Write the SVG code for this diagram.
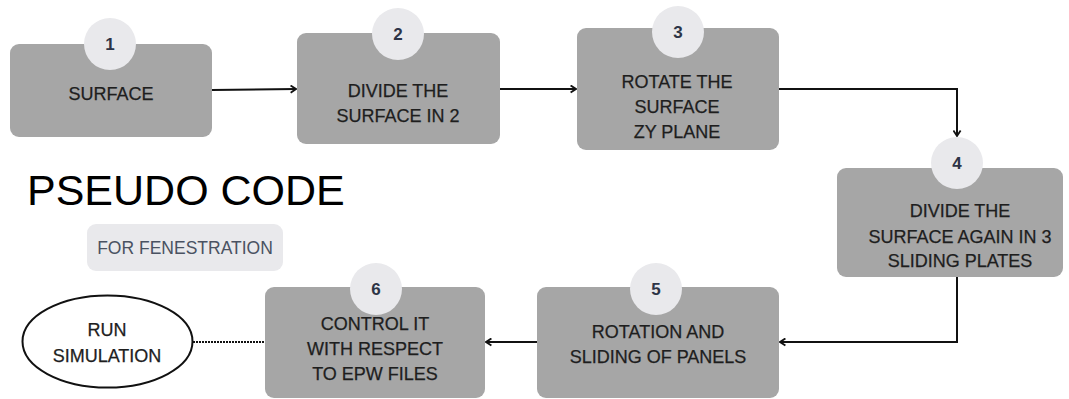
<svg xmlns="http://www.w3.org/2000/svg" width="1069" height="399" viewBox="0 0 1069 399">
<style>
.box{fill:#a6a6a6}
.badge{fill:#e9e9ec}
.num{font-family:"Liberation Sans",Arial,sans-serif;font-weight:bold;font-size:17px;fill:#2d3446;text-anchor:middle}
.lbl{font-family:"Liberation Sans",Arial,sans-serif;font-size:18px;fill:#1e1e1e;text-anchor:middle;stroke:#1e1e1e;stroke-width:0.25}
.conn{fill:none;stroke:#111;stroke-width:2}
</style>
<defs>
<marker id="arr" viewBox="0 0 10 10" refX="9" refY="5" markerWidth="9" markerHeight="9" markerUnits="userSpaceOnUse" orient="auto">
<path d="M3,1 L9,5 L3,9" fill="none" stroke="#111" stroke-width="2"/>
</marker>
</defs>
<rect width="1069" height="399" fill="#ffffff"/>

<g id="connectors">
<path class="conn" d="M212,90 L296,89" marker-end="url(#arr)"/>
<path class="conn" d="M500,89 L576,89" marker-end="url(#arr)"/>
<path class="conn" d="M779,89 H957 V136" marker-end="url(#arr)"/>
<path class="conn" d="M957,277 V342 H780" marker-end="url(#arr)"/>
<path class="conn" d="M537,342 H486" marker-end="url(#arr)"/>
<path d="M193,342 H265" fill="none" stroke="#111" stroke-width="2" stroke-dasharray="2,1"/>
</g>

<g id="title">
<text x="27" y="205" font-family="'Liberation Sans',Arial,sans-serif" font-size="43" fill="#000">PSEUDO CODE</text>
</g>

<g id="subtitle">
<rect x="87" y="224" width="196" height="47" rx="9" fill="#e9e9ec"/>
<text x="185" y="254" font-family="'Liberation Sans',Arial,sans-serif" font-size="17.5" fill="#4a5262" text-anchor="middle">FOR FENESTRATION</text>
</g>

<g id="node1">
<rect class="box" x="10" y="44" width="202" height="93" rx="9"/>
<circle class="badge" cx="110" cy="44" r="26"/>
<text class="num" x="110" y="50">1</text>
<text class="lbl" x="111" y="100">SURFACE</text>
</g>

<g id="node2">
<rect class="box" x="297" y="33" width="203" height="111" rx="9"/>
<circle class="badge" cx="398" cy="34" r="26"/>
<text class="num" x="398" y="40">2</text>
<text class="lbl" x="398" y="97">DIVIDE THE</text>
<text class="lbl" x="398" y="122">SURFACE IN 2</text>
</g>

<g id="node3">
<rect class="box" x="577" y="28" width="202" height="122" rx="9"/>
<circle class="badge" cx="678" cy="32" r="26"/>
<text class="num" x="678" y="38">3</text>
<text class="lbl" x="677" y="88">ROTATE THE</text>
<text class="lbl" x="677" y="113">SURFACE</text>
<text class="lbl" x="677" y="138">ZY PLANE</text>
</g>

<g id="node4">
<rect class="box" x="837" y="168" width="226" height="109" rx="9"/>
<circle class="badge" cx="957" cy="163" r="26"/>
<text class="num" x="957" y="169">4</text>
<text class="lbl" x="960" y="217">DIVIDE THE</text>
<text class="lbl" x="960" y="243">SURFACE AGAIN IN 3</text>
<text class="lbl" x="960" y="267">SLIDING PLATES</text>
</g>

<g id="node5">
<rect class="box" x="537" y="287" width="242" height="111" rx="9"/>
<circle class="badge" cx="656" cy="289" r="26"/>
<text class="num" x="656" y="295">5</text>
<text class="lbl" x="658" y="338">ROTATION AND</text>
<text class="lbl" x="658" y="363">SLIDING OF PANELS</text>
</g>

<g id="node6">
<rect class="box" x="265" y="287" width="220" height="111" rx="9"/>
<circle class="badge" cx="376" cy="289" r="26"/>
<text class="num" x="376" y="295">6</text>
<text class="lbl" x="375" y="330">CONTROL IT</text>
<text class="lbl" x="375" y="355">WITH RESPECT</text>
<text class="lbl" x="375" y="380">TO EPW FILES</text>
</g>

<g id="node7">
<ellipse cx="107.5" cy="341.5" rx="85" ry="46" fill="#fff" stroke="#111" stroke-width="2"/>
<text class="lbl" x="107" y="336">RUN</text>
<text class="lbl" x="107" y="362">SIMULATION</text>
</g>
</svg>
